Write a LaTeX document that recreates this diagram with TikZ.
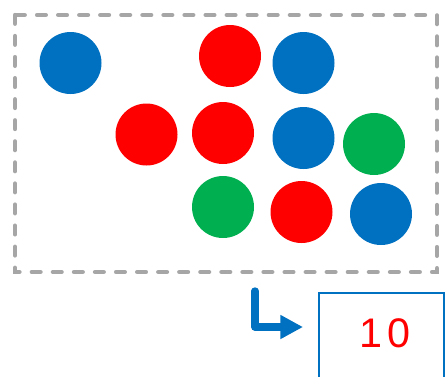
\documentclass[tikz,border=0pt]{standalone}
\usepackage{fontspec}
\usepackage{tikz}
\usetikzlibrary{arrows.meta, positioning}
\usepackage{xcolor}
\newfontfamily\countfont[LetterSpace=12]{Liberation Sans}
\definecolor{ballblue}{RGB}{0,112,192}
\definecolor{ballred}{RGB}{255,0,0}
\definecolor{ballgreen}{RGB}{0,176,80}
\definecolor{framegray}{RGB}{166,166,166}

\begin{document}
\begin{tikzpicture}[x=0.75pt, y=-0.75pt,
    ball/.style={circle, inner sep=0pt, minimum size=46.5pt},
    bagframe/.style={framegray, line width=3.3pt, line cap=round, dash pattern=on 6.5pt off 9.3pt},
    elbow/.style={ballblue, line width=5.5pt, line cap=round, line join=round, -{Triangle[length=17pt, width=17pt]}}]
  \useasboundingbox (0,0) rectangle (448,376);
  % the bag
  \draw[bagframe] (15,15) rectangle (437,272);
  \node[ball, fill=ballblue] (blueA) at (70.5,63) {};
  \node[ball, fill=ballred] (redA) at (230,56) {};
  \node[ball, fill=ballblue] (blueB) at (303.5,63) {};
  \node[ball, fill=ballred] (redB) at (146.5,134.5) {};
  \node[ball, fill=ballred] (redC) at (223,133) {};
  \node[ball, fill=ballblue] (blueC) at (303.5,138) {};
  \node[ball, fill=ballgreen] (greenA) at (374,144) {};
  \node[ball, fill=ballgreen] (greenB) at (223,207) {};
  \node[ball, fill=ballred] (redD) at (301.5,212) {};
  \node[ball, fill=ballblue] (blueD) at (381,214) {};
  % the count
  \node[draw=ballblue, line width=1.5pt, minimum width=93.75pt, minimum height=75pt, anchor=north west] (countbox) at (318,292) {};
  \node[text=ballred, font=\countfont\fontsize{31}{31}\selectfont] (count) at (385,333) {10};
  \coordinate (elbowtop) at (255,291);
  \coordinate (elbowtip) at (303,327);
  \draw[elbow] (elbowtop) |- (elbowtip);
\end{tikzpicture}
\end{document}
